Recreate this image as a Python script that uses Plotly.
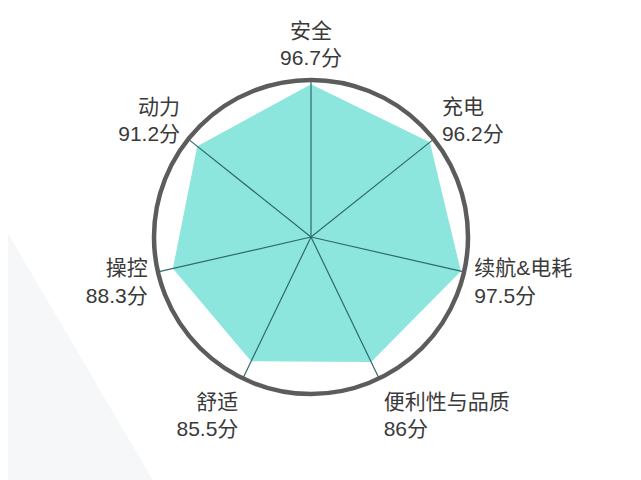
import plotly.graph_objects as go

categories = ["安全", "充电", "续航&电耗", "便利性与品质", "舒适", "操控", "动力"]
scores = [96.7, 96.2, 97.5, 86, 85.5, 88.3, 91.2]
tick_labels = [f"{c}<br>{s:g}分" for c, s in zip(categories, scores)]

r_min, r_max = -20, 100

fig = go.Figure()

fig.add_trace(go.Scatterpolar(
    r=scores + [scores[0]],
    theta=categories + [categories[0]],
    mode="lines",
    line=dict(color="rgba(0,0,0,0)", width=0),
    fill="toself",
    fillcolor="#8de6dd",
    hoverinfo="skip",
    showlegend=False,
))

for c in categories:
    fig.add_trace(go.Scatterpolar(
        r=[r_min, r_max],
        theta=[c, c],
        mode="lines",
        line=dict(color="#2f6a6a", width=1.2),
        hoverinfo="skip",
        showlegend=False,
    ))

fig.update_layout(
    width=641,
    height=480,
    paper_bgcolor="white",
    margin=dict(l=146, r=181, t=72, b=94),
    font=dict(family="Liberation Sans, Noto Sans CJK SC, sans-serif", size=21, color="#3a3a3a"),
    polar=dict(
        bgcolor="rgba(0,0,0,0)",
        radialaxis=dict(visible=False, range=[r_min, r_max]),
        angularaxis=dict(
            direction="clockwise",
            rotation=90,
            tickmode="array",
            tickvals=categories,
            ticktext=tick_labels,
            showgrid=False,
            showline=True,
            linecolor="#5c5c5c",
            linewidth=4.5,
            ticks="outside",
            ticklen=4,
            tickcolor="rgba(0,0,0,0)",
        ),
    ),
    shapes=[dict(
        type="path",
        xref="paper", yref="paper",
        path="M -0.47 0.52 L 0.0 -0.28 L -0.47 -0.28 Z",
        fillcolor="#f6f7f9",
        line=dict(width=0),
        layer="below",
    )],
)

fig.write_html("out.html")
